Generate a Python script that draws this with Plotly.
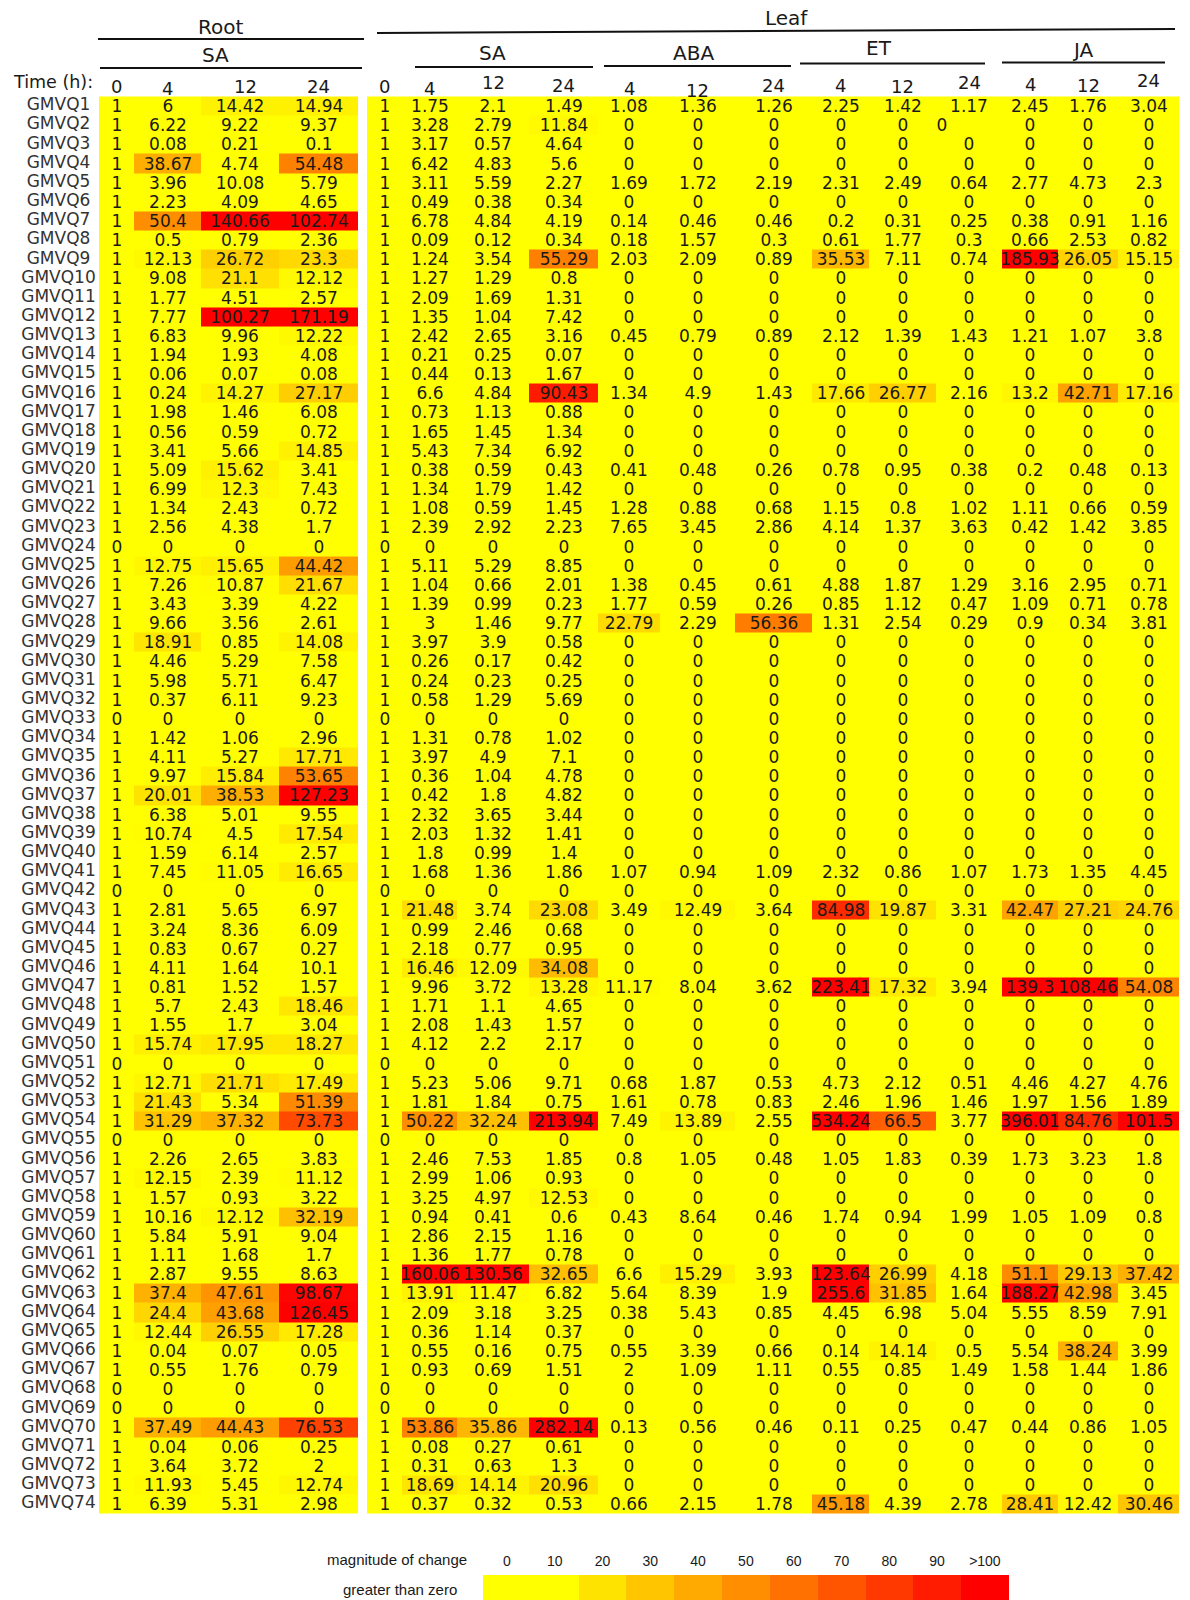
import plotly.graph_objects as go

# ---------------- data ----------------
genes = ["GMVQ%d" % i for i in range(1, 75)]
root_times = ["0", "4", "12", "24"]
leaf_times = ["0", "4", "12", "24", "4", "12", "24", "4", "12", "24", "4", "12", "24"]
legend_levels = [0, 10, 20, 30, 40, 50, 60, 70, 80, 90, 100]
legend_labels = ["0", "10", "20", "30", "40", "50", "60", "70", "80", "90", ">100"]

root_sa_0 = [1, 1, 1, 1, 1, 1, 1, 1, 1, 1,
             1, 1, 1, 1, 1, 1, 1, 1, 1, 1,
             1, 1, 1, 0, 1, 1, 1, 1, 1, 1,
             1, 1, 0, 1, 1, 1, 1, 1, 1, 1,
             1, 0, 1, 1, 1, 1, 1, 1, 1, 1,
             0, 1, 1, 1, 0, 1, 1, 1, 1, 1,
             1, 1, 1, 1, 1, 1, 1, 0, 0, 1,
             1, 1, 1, 1]
root_sa_4 = [6, 6.22, 0.08, 38.67, 3.96, 2.23, 50.4, 0.5, 12.13, 9.08,
             1.77, 7.77, 6.83, 1.94, 0.06, 0.24, 1.98, 0.56, 3.41, 5.09,
             6.99, 1.34, 2.56, 0, 12.75, 7.26, 3.43, 9.66, 18.91, 4.46,
             5.98, 0.37, 0, 1.42, 4.11, 9.97, 20.01, 6.38, 10.74, 1.59,
             7.45, 0, 2.81, 3.24, 0.83, 4.11, 0.81, 5.7, 1.55, 15.74,
             0, 12.71, 21.43, 31.29, 0, 2.26, 12.15, 1.57, 10.16, 5.84,
             1.11, 2.87, 37.4, 24.4, 12.44, 0.04, 0.55, 0, 0, 37.49,
             0.04, 3.64, 11.93, 6.39]
root_sa_12 = [14.42, 9.22, 0.21, 4.74, 10.08, 4.09, 140.66, 0.79, 26.72, 21.1,
              4.51, 100.27, 9.96, 1.93, 0.07, 14.27, 1.46, 0.59, 5.66, 15.62,
              12.3, 2.43, 4.38, 0, 15.65, 10.87, 3.39, 3.56, 0.85, 5.29,
              5.71, 6.11, 0, 1.06, 5.27, 15.84, 38.53, 5.01, 4.5, 6.14,
              11.05, 0, 5.65, 8.36, 0.67, 1.64, 1.52, 2.43, 1.7, 17.95,
              0, 21.71, 5.34, 37.32, 0, 2.65, 2.39, 0.93, 12.12, 5.91,
              1.68, 9.55, 47.61, 43.68, 26.55, 0.07, 1.76, 0, 0, 44.43,
              0.06, 3.72, 5.45, 5.31]
root_sa_24 = [14.94, 9.37, 0.1, 54.48, 5.79, 4.65, 102.74, 2.36, 23.3, 12.12,
              2.57, 171.19, 12.22, 4.08, 0.08, 27.17, 6.08, 0.72, 14.85, 3.41,
              7.43, 0.72, 1.7, 0, 44.42, 21.67, 4.22, 2.61, 14.08, 7.58,
              6.47, 9.23, 0, 2.96, 17.71, 53.65, 127.23, 9.55, 17.54, 2.57,
              16.65, 0, 6.97, 6.09, 0.27, 10.1, 1.57, 18.46, 3.04, 18.27,
              0, 17.49, 51.39, 73.73, 0, 3.83, 11.12, 3.22, 32.19, 9.04,
              1.7, 8.63, 98.67, 126.45, 17.28, 0.05, 0.79, 0, 0, 76.53,
              0.25, 2, 12.74, 2.98]

leaf_sa_0 = [1, 1, 1, 1, 1, 1, 1, 1, 1, 1,
             1, 1, 1, 1, 1, 1, 1, 1, 1, 1,
             1, 1, 1, 0, 1, 1, 1, 1, 1, 1,
             1, 1, 0, 1, 1, 1, 1, 1, 1, 1,
             1, 0, 1, 1, 1, 1, 1, 1, 1, 1,
             0, 1, 1, 1, 0, 1, 1, 1, 1, 1,
             1, 1, 1, 1, 1, 1, 1, 0, 0, 1,
             1, 1, 1, 1]
leaf_sa_4 = [1.75, 3.28, 3.17, 6.42, 3.11, 0.49, 6.78, 0.09, 1.24, 1.27,
             2.09, 1.35, 2.42, 0.21, 0.44, 6.6, 0.73, 1.65, 5.43, 0.38,
             1.34, 1.08, 2.39, 0, 5.11, 1.04, 1.39, 3, 3.97, 0.26,
             0.24, 0.58, 0, 1.31, 3.97, 0.36, 0.42, 2.32, 2.03, 1.8,
             1.68, 0, 21.48, 0.99, 2.18, 16.46, 9.96, 1.71, 2.08, 4.12,
             0, 5.23, 1.81, 50.22, 0, 2.46, 2.99, 3.25, 0.94, 2.86,
             1.36, 160.06, 13.91, 2.09, 0.36, 0.55, 0.93, 0, 0, 53.86,
             0.08, 0.31, 18.69, 0.37]
leaf_sa_12 = [2.1, 2.79, 0.57, 4.83, 5.59, 0.38, 4.84, 0.12, 3.54, 1.29,
              1.69, 1.04, 2.65, 0.25, 0.13, 4.84, 1.13, 1.45, 7.34, 0.59,
              1.79, 0.59, 2.92, 0, 5.29, 0.66, 0.99, 1.46, 3.9, 0.17,
              0.23, 1.29, 0, 0.78, 4.9, 1.04, 1.8, 3.65, 1.32, 0.99,
              1.36, 0, 3.74, 2.46, 0.77, 12.09, 3.72, 1.1, 1.43, 2.2,
              0, 5.06, 1.84, 32.24, 0, 7.53, 1.06, 4.97, 0.41, 2.15,
              1.77, 130.56, 11.47, 3.18, 1.14, 0.16, 0.69, 0, 0, 35.86,
              0.27, 0.63, 14.14, 0.32]
leaf_sa_24 = [1.49, 11.84, 4.64, 5.6, 2.27, 0.34, 4.19, 0.34, 55.29, 0.8,
              1.31, 7.42, 3.16, 0.07, 1.67, 90.43, 0.88, 1.34, 6.92, 0.43,
              1.42, 1.45, 2.23, 0, 8.85, 2.01, 0.23, 9.77, 0.58, 0.42,
              0.25, 5.69, 0, 1.02, 7.1, 4.78, 4.82, 3.44, 1.41, 1.4,
              1.86, 0, 23.08, 0.68, 0.95, 34.08, 13.28, 4.65, 1.57, 2.17,
              0, 9.71, 0.75, 213.94, 0, 1.85, 0.93, 12.53, 0.6, 1.16,
              0.78, 32.65, 6.82, 3.25, 0.37, 0.75, 1.51, 0, 0, 282.14,
              0.61, 1.3, 20.96, 0.53]
aba_4 = [1.08, 0, 0, 0, 1.69, 0, 0.14, 0.18, 2.03, 0,
         0, 0, 0.45, 0, 0, 1.34, 0, 0, 0, 0.41,
         0, 1.28, 7.65, 0, 0, 1.38, 1.77, 22.79, 0, 0,
         0, 0, 0, 0, 0, 0, 0, 0, 0, 0,
         1.07, 0, 3.49, 0, 0, 0, 11.17, 0, 0, 0,
         0, 0.68, 1.61, 7.49, 0, 0.8, 0, 0, 0.43, 0,
         0, 6.6, 5.64, 0.38, 0, 0.55, 2, 0, 0, 0.13,
         0, 0, 0, 0.66]
aba_12 = [1.36, 0, 0, 0, 1.72, 0, 0.46, 1.57, 2.09, 0,
          0, 0, 0.79, 0, 0, 4.9, 0, 0, 0, 0.48,
          0, 0.88, 3.45, 0, 0, 0.45, 0.59, 2.29, 0, 0,
          0, 0, 0, 0, 0, 0, 0, 0, 0, 0,
          0.94, 0, 12.49, 0, 0, 0, 8.04, 0, 0, 0,
          0, 1.87, 0.78, 13.89, 0, 1.05, 0, 0, 8.64, 0,
          0, 15.29, 8.39, 5.43, 0, 3.39, 1.09, 0, 0, 0.56,
          0, 0, 0, 2.15]
aba_24 = [1.26, 0, 0, 0, 2.19, 0, 0.46, 0.3, 0.89, 0,
          0, 0, 0.89, 0, 0, 1.43, 0, 0, 0, 0.26,
          0, 0.68, 2.86, 0, 0, 0.61, 0.26, 56.36, 0, 0,
          0, 0, 0, 0, 0, 0, 0, 0, 0, 0,
          1.09, 0, 3.64, 0, 0, 0, 3.62, 0, 0, 0,
          0, 0.53, 0.83, 2.55, 0, 0.48, 0, 0, 0.46, 0,
          0, 3.93, 1.9, 0.85, 0, 0.66, 1.11, 0, 0, 0.46,
          0, 0, 0, 1.78]
et_4 = [2.25, 0, 0, 0, 2.31, 0, 0.2, 0.61, 35.53, 0,
        0, 0, 2.12, 0, 0, 17.66, 0, 0, 0, 0.78,
        0, 1.15, 4.14, 0, 0, 4.88, 0.85, 1.31, 0, 0,
        0, 0, 0, 0, 0, 0, 0, 0, 0, 0,
        2.32, 0, 84.98, 0, 0, 0, 223.41, 0, 0, 0,
        0, 4.73, 2.46, 534.24, 0, 1.05, 0, 0, 1.74, 0,
        0, 123.64, 255.6, 4.45, 0, 0.14, 0.55, 0, 0, 0.11,
        0, 0, 0, 45.18]
et_12 = [1.42, 0, 0, 0, 2.49, 0, 0.31, 1.77, 7.11, 0,
         0, 0, 1.39, 0, 0, 26.77, 0, 0, 0, 0.95,
         0, 0.8, 1.37, 0, 0, 1.87, 1.12, 2.54, 0, 0,
         0, 0, 0, 0, 0, 0, 0, 0, 0, 0,
         0.86, 0, 19.87, 0, 0, 0, 17.32, 0, 0, 0,
         0, 2.12, 1.96, 66.5, 0, 1.83, 0, 0, 0.94, 0,
         0, 26.99, 31.85, 6.98, 0, 14.14, 0.85, 0, 0, 0.25,
         0, 0, 0, 4.39]
et_24 = [1.17, 0, 0, 0, 0.64, 0, 0.25, 0.3, 0.74, 0,
         0, 0, 1.43, 0, 0, 2.16, 0, 0, 0, 0.38,
         0, 1.02, 3.63, 0, 0, 1.29, 0.47, 0.29, 0, 0,
         0, 0, 0, 0, 0, 0, 0, 0, 0, 0,
         1.07, 0, 3.31, 0, 0, 0, 3.94, 0, 0, 0,
         0, 0.51, 1.46, 3.77, 0, 0.39, 0, 0, 1.99, 0,
         0, 4.18, 1.64, 5.04, 0, 0.5, 1.49, 0, 0, 0.47,
         0, 0, 0, 2.78]
ja_4 = [2.45, 0, 0, 0, 2.77, 0, 0.38, 0.66, 185.93, 0,
        0, 0, 1.21, 0, 0, 13.2, 0, 0, 0, 0.2,
        0, 1.11, 0.42, 0, 0, 3.16, 1.09, 0.9, 0, 0,
        0, 0, 0, 0, 0, 0, 0, 0, 0, 0,
        1.73, 0, 42.47, 0, 0, 0, 139.3, 0, 0, 0,
        0, 4.46, 1.97, 396.01, 0, 1.73, 0, 0, 1.05, 0,
        0, 51.1, 188.27, 5.55, 0, 5.54, 1.58, 0, 0, 0.44,
        0, 0, 0, 28.41]
ja_12 = [1.76, 0, 0, 0, 4.73, 0, 0.91, 2.53, 26.05, 0,
         0, 0, 1.07, 0, 0, 42.71, 0, 0, 0, 0.48,
         0, 0.66, 1.42, 0, 0, 2.95, 0.71, 0.34, 0, 0,
         0, 0, 0, 0, 0, 0, 0, 0, 0, 0,
         1.35, 0, 27.21, 0, 0, 0, 108.46, 0, 0, 0,
         0, 4.27, 1.56, 84.76, 0, 3.23, 0, 0, 1.09, 0,
         0, 29.13, 42.98, 8.59, 0, 38.24, 1.44, 0, 0, 0.86,
         0, 0, 0, 12.42]
ja_24 = [3.04, 0, 0, 0, 2.3, 0, 1.16, 0.82, 15.15, 0,
         0, 0, 3.8, 0, 0, 17.16, 0, 0, 0, 0.13,
         0, 0.59, 3.85, 0, 0, 0.71, 0.78, 3.81, 0, 0,
         0, 0, 0, 0, 0, 0, 0, 0, 0, 0,
         4.45, 0, 24.76, 0, 0, 0, 54.08, 0, 0, 0,
         0, 4.76, 1.89, 101.5, 0, 1.8, 0, 0, 0.8, 0,
         0, 37.42, 3.45, 7.91, 0, 3.99, 1.86, 0, 0, 1.05,
         0, 0, 0, 30.46]

# ---------------- layout constants (page pixels) ----------------
W, H = 1190, 1600
ROW_TOP, ROW_H = 96.5, 19.15
ROOT_EDGES = [99, 134, 201, 279, 358]
LEAF_EDGES = [367, 402, 457, 529, 598, 660, 735, 812, 869, 936, 1002, 1058, 1118, 1179]
ROOT_LABEL_Y = [86, 88, 86, 86]
LEAF_LABEL_Y = [86, 88, 82, 85, 88, 90, 85, 85, 86, 82, 84, 85, 80]
LEG_X0, LEG_W, LEG_Y = 483, 47.8, (1575, 1600)
NUM_FONT = dict(family="DejaVu Sans", size=17, color="#1a1a1a")
HEAD_NUM_FONT = dict(family="DejaVu Sans", size=18, color="#1a1a1a")
HEAD_FONT = dict(family="DejaVu Sans", size=20, color="#1a1a1a")
CS = [[0, "#FFFF00"], [0.1, "#FFFF00"], [1, "#FF0000"]]

row_edges = [ROW_TOP + i * ROW_H for i in range(len(genes) + 1)]
row_centers = [(row_edges[i] + row_edges[i + 1]) / 2 for i in range(len(genes))]


def fmt(v):
    return f"{v:g}"


root_cols = [root_sa_0, root_sa_4, root_sa_12, root_sa_24]
leaf_cols = [leaf_sa_0, leaf_sa_4, leaf_sa_12, leaf_sa_24, aba_4, aba_12, aba_24,
             et_4, et_12, et_24, ja_4, ja_12, ja_24]
root_z = [list(r) for r in zip(*root_cols)]
leaf_z = [list(r) for r in zip(*leaf_cols)]
root_text = [[fmt(v) for v in r] for r in root_z]
leaf_text = [[fmt(v) for v in r] for r in leaf_z]
# the stray, left-shifted "0" of GMVQ2 / ET 24h in the original table
leaf_text[1][9] = leaf_text[1][9] + "\u00a0" * 10

fig = go.Figure()
for z, xe, txt in [(root_z, ROOT_EDGES, root_text), (leaf_z, LEAF_EDGES, leaf_text)]:
    fig.add_trace(go.Heatmap(
        z=z, x=xe, y=row_edges, text=txt, texttemplate="%{text}",
        textfont=NUM_FONT, colorscale=CS, zmin=0, zmax=100,
        showscale=False, hoverinfo="skip", xgap=0, ygap=0))

# row labels
fig.add_trace(go.Scatter(
    x=[58.5] * len(genes), y=row_centers, mode="text", text=genes,
    textposition="middle center", cliponaxis=False,
    textfont=dict(family="DejaVu Sans", size=17, color="#333333"),
    hoverinfo="skip", showlegend=False))

# legend colour bar
leg_edges = [LEG_X0 + i * LEG_W for i in range(len(legend_levels) + 1)]
leg_centers = [(leg_edges[i] + leg_edges[i + 1]) / 2 for i in range(len(legend_levels))]
fig.add_trace(go.Heatmap(
    z=[legend_levels], x=leg_edges, y=list(LEG_Y), colorscale=CS, zmin=0, zmax=100,
    showscale=False, hoverinfo="skip"))
fig.add_trace(go.Scatter(
    x=leg_centers, y=[1562] * len(legend_levels), mode="text", text=legend_labels,
    textposition="middle center", cliponaxis=False,
    textfont=dict(family="Liberation Sans", size=14, color="#1a1a1a"),
    hoverinfo="skip", showlegend=False))

ann = []


def add_text(x, y, t, font):
    ann.append(dict(x=x, y=y, xref="x", yref="y", text=t, showarrow=False,
                    xanchor="center", yanchor="middle", font=font))


# column (time) labels
root_c = [(ROOT_EDGES[i] + ROOT_EDGES[i + 1]) / 2 for i in range(len(root_times))]
leaf_c = [(LEAF_EDGES[i] + LEAF_EDGES[i + 1]) / 2 for i in range(len(leaf_times))]
for x, y, t in zip(root_c, ROOT_LABEL_Y, root_times):
    add_text(x + (5 if t == "12" else 0), y, t, HEAD_NUM_FONT)
for x, y, t in zip(leaf_c, LEAF_LABEL_Y, leaf_times):
    add_text(x, y, t, HEAD_NUM_FONT)

add_text(52.5, 82, "Time (h):", dict(family="DejaVu Sans", size=17.5, color="#1a1a1a"))
add_text(220, 27, "Root", HEAD_FONT)
add_text(215, 55, "SA", HEAD_FONT)
add_text(786, 18, "Leaf", HEAD_FONT)
add_text(492, 53, "SA", HEAD_FONT)
add_text(693, 53, "ABA", HEAD_FONT)
add_text(879, 48, "ET", HEAD_FONT)
add_text(1083, 50, "JA", HEAD_FONT)
add_text(397, 1559, "magnitude of change", dict(family="Liberation Sans", size=15, color="#1a1a1a"))
add_text(400, 1589, "greater than zero", dict(family="Liberation Sans", size=15, color="#1a1a1a"))

line = dict(color="#111111", width=2)
shapes = [
    dict(type="line", xref="x", yref="y", x0=98, x1=364, y0=39, y1=39, line=line),
    dict(type="line", xref="x", yref="y", x0=100, x1=362, y0=68, y1=68, line=line),
    dict(type="line", xref="x", yref="y", x0=377, x1=1175, y0=33, y1=29, line=line),
    dict(type="line", xref="x", yref="y", x0=415, x1=593, y0=67, y1=67, line=line),
    dict(type="line", xref="x", yref="y", x0=604, x1=791, y0=66, y1=66, line=line),
    dict(type="line", xref="x", yref="y", x0=800, x1=985, y0=63.5, y1=63.5, line=line),
    dict(type="line", xref="x", yref="y", x0=1002, x1=1165, y0=62.5, y1=62.5, line=line),
]

fig.update_layout(
    width=W, height=H, margin=dict(l=0, r=0, t=0, b=0),
    paper_bgcolor="white", plot_bgcolor="white", showlegend=False,
    xaxis=dict(range=[0, W], visible=False, fixedrange=True),
    yaxis=dict(range=[H, 0], visible=False, fixedrange=True),
    annotations=ann, shapes=shapes,
)

fig.write_html(
    "out.html",
    config={"displayModeBar": False},
    post_script="document.body.style.margin='0px';document.documentElement.style.overflow='hidden';",
)
